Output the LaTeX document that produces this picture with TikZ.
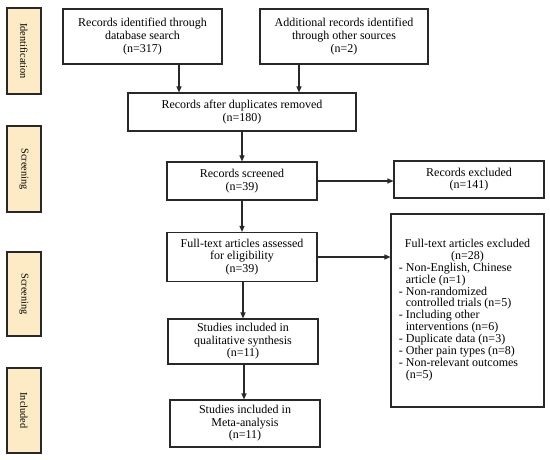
\documentclass[tikz,border=0pt]{standalone}
\usepackage{fontspec}
\setmainfont{Liberation Serif}
\usetikzlibrary{arrows.meta}
\definecolor{sidefill}{HTML}{FCEBC4}
\definecolor{linec}{HTML}{282828}
\begin{document}
\begin{tikzpicture}[x=1pt,y=-1pt,
  box/.style={draw=linec,line width=1.1pt,fill=white,inner sep=0pt,align=center,
    font=\fontsize{12}{12.6}\selectfont},
  side/.style={draw=linec,line width=1.1pt,fill=sidefill,inner sep=0pt,
    minimum width=34pt,font=\fontsize{10.3}{11}\selectfont},
  arr/.style={draw=linec,line width=1.1pt,-{Triangle[length=6pt,width=5pt]}}]
\useasboundingbox (0,0) rectangle (550,460);
% side labels
\node[side,minimum height=86pt] (sid) at (24,51) {\rotatebox{-90}{Identification}};
\node[side,minimum height=86pt] (ss1) at (24,169) {\rotatebox{-90}{Screening}};
\node[side,minimum height=84pt] (ss2) at (24,294) {\rotatebox{-90}{Screening}};
\node[side,minimum height=85pt] (sinc) at (24,410.5) {\rotatebox{-90}{Included}};
% boxes
\node[box,minimum width=159pt,minimum height=55pt] (A) at (142.5,36.5)
  {Records identified through\\database search\\(n=317)};
\node[box,minimum width=168pt,minimum height=55pt] (B) at (344,36.5)
  {Additional records identified\\through other sources\\(n=2)};
\node[box,minimum width=228pt,minimum height=38pt] (C) at (242,112)
  {Records after duplicates removed\\(n=180)};
\node[box,minimum width=150pt,minimum height=38pt] (D) at (242,181)
  {Records screened\\(n=39)};
\node[box,minimum width=150pt,minimum height=37pt] (E) at (469,179.5)
  {Records excluded\\(n=141)};
\node[box,minimum width=150pt,minimum height=49pt] (F) at (242,257)
  {Full-text articles assessed\\for eligibility\\(n=39)};
\node[box,minimum width=153pt,minimum height=193pt] (G) at (467.5,310.5)
  {\fontsize{12}{11.7}\selectfont
   \begin{tabular}{@{}l@{\hspace{3pt}}l@{}}
   \multicolumn{2}{c}{Full-text articles excluded}\\
   \multicolumn{2}{c}{(n=28)}\\
   -& Non-English, Chinese\\
    & article (n=1)\\
   -& Non-randomized\\
    & controlled trials (n=5)\\
   -& Including other\\
    & interventions (n=6)\\
   -& Duplicate data (n=3)\\
   -& Other pain types (n=8)\\
   -& Non-relevant outcomes\\
    & (n=5)
   \end{tabular}};
\node[box,minimum width=150pt,minimum height=45pt] (H) at (243,341.5)
  {Studies included in\\qualitative synthesis\\(n=11)};
\node[box,minimum width=150pt,minimum height=47pt] (I) at (245,423.5)
  {Studies included in\\Meta-analysis\\(n=11)};
% arrows
\draw[arr] ([xshift=36.5pt]A.south) -- ([xshift=36.5pt]A.south |- C.north);
\draw[arr] ([xshift=-45pt]B.south) -- ([xshift=-45pt]B.south |- C.north);
\draw[arr] (C.south) -- (C.south |- D.north);
\draw[arr] (D.east) -- (D.east -| E.west);
\draw[arr] (D.south) -- (D.south |- F.north);
\draw[arr] (F.east) -- (F.east -| G.west);
\draw[arr] ([xshift=1pt]F.south) -- ([xshift=1pt]F.south |- H.north);
\draw[arr] ([xshift=1pt]H.south) -- ([xshift=1pt]H.south |- I.north);
\end{tikzpicture}
\end{document}
